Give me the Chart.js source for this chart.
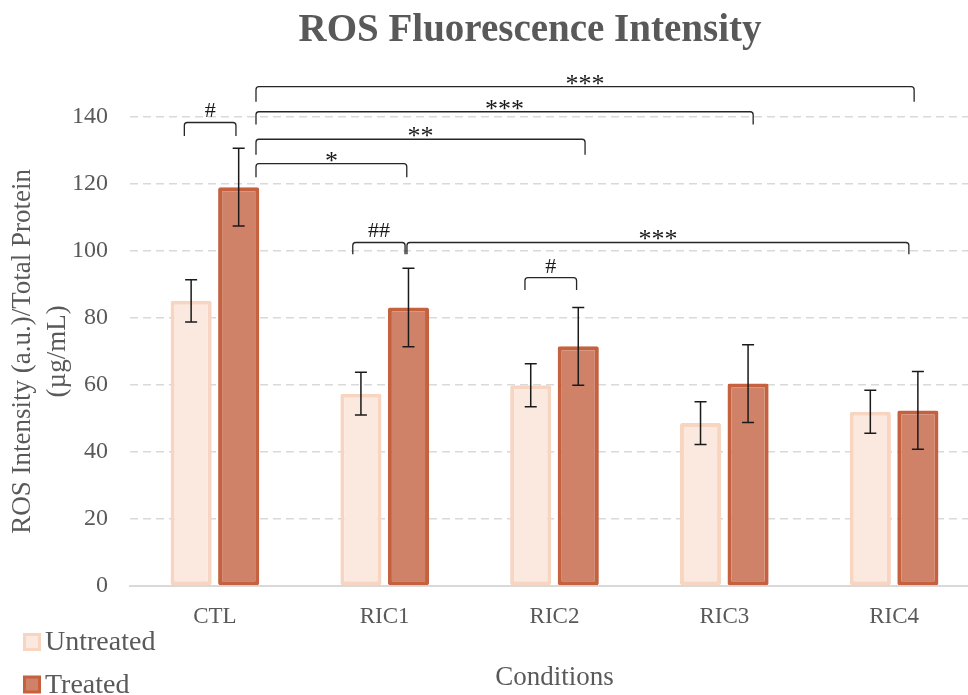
<!DOCTYPE html>
<html>
<head>
<meta charset="utf-8">
<script src="https://cdn.jsdelivr.net/npm/chart.js@4.4.1/dist/chart.umd.min.js"></script>
<style>
html, body { margin:0; padding:0; overflow:hidden; background:#fff; }
</style>
</head>
<body>
<canvas id="chart" width="1060" height="695"></canvas>
<script>
const conditions = ['CTL', 'RIC1', 'RIC2', 'RIC3', 'RIC4'];
const untreated = [85.1, 57.4, 59.9, 48.6, 52.0];
const untreatedErr = [6.3, 6.4, 6.4, 6.4, 6.4];
const treated = [119.0, 83.1, 71.5, 60.4, 52.4];
const treatedErr = [11.6, 11.7, 11.6, 11.6, 11.6];

// significance brackets: x in category units, y in data units
const brackets = [
	{label: '#',   x1: -0.18, x2: 0.124, top: 138.3, leg: 134.3},
	{label: '*',   x1: 0.242, x2: 1.13,  top: 126.0, leg: 122.0},
	{label: '**',  x1: 0.242, x2: 2.18,  top: 133.3, leg: 128.7},
	{label: '***', x1: 0.242, x2: 3.17,  top: 141.5, leg: 137.7},
	{label: '***', x1: 0.242, x2: 4.118, top: 149.0, leg: 144.5},
	{label: '##',  x1: 0.812, x2: 1.12,  top: 102.5, leg: 99.0},
	{label: '***', x1: 1.131, x2: 4.087, top: 102.5, leg: 99.0},
	{label: '#',   x1: 1.826, x2: 2.13,  top: 92.0,  leg: 88.3}
];

const FONT = "'Liberation Serif', 'Times New Roman', serif";
const GREY = '#595959';

const errors = [untreatedErr, treatedErr];

const errorBars = {
	id: 'errorBars',
	afterDatasetsDraw(chart) {
		const ctx = chart.ctx, y = chart.scales.y;
		ctx.save();
		ctx.strokeStyle = '#1a1a1a';
		ctx.lineWidth = 1.5;
		chart.data.datasets.forEach((ds, i) => {
			chart.getDatasetMeta(i).data.forEach((bar, j) => {
				const v = ds.data[j], e = errors[i][j];
				const yt = y.getPixelForValue(v + e), yb = y.getPixelForValue(v - e);
				ctx.beginPath();
				ctx.moveTo(bar.x, yt); ctx.lineTo(bar.x, yb);
				ctx.moveTo(bar.x - 6, yt); ctx.lineTo(bar.x + 6, yt);
				ctx.moveTo(bar.x - 6, yb); ctx.lineTo(bar.x + 6, yb);
				ctx.stroke();
			});
		});
		ctx.restore();
	}
};

const sigBrackets = {
	id: 'sigBrackets',
	afterDraw(chart) {
		const ctx = chart.ctx, x = chart.scales.x, y = chart.scales.y;
		ctx.save();
		ctx.strokeStyle = '#262626';
		ctx.fillStyle = '#1a1a1a';
		ctx.lineWidth = 1.3;
		ctx.textAlign = 'center';
		ctx.textBaseline = 'alphabetic';
		brackets.forEach(b => {
			const xa = x.getPixelForValue(b.x1), xb = x.getPixelForValue(b.x2);
			const yt = y.getPixelForValue(b.top), yl = y.getPixelForValue(b.leg);
			ctx.beginPath();
			ctx.moveTo(xa, yl);
			ctx.arcTo(xa, yt, xa + 4, yt, 3);
			ctx.arcTo(xb, yt, xb, yt + 4, 3);
			ctx.lineTo(xb, yl);
			ctx.stroke();
			// asterisks sit high in the glyph box, hashes sit on the baseline
			const star = b.label.includes('*');
			ctx.font = (star ? '26px ' : '22px ') + FONT;
			ctx.fillText(b.label, (xa + xb) / 2, star ? yt + 5 : yt - 5);
		});
		ctx.restore();
	}
};

const sideLegend = {
	id: 'sideLegend',
	afterDraw(chart) {
		const ctx = chart.ctx;
		ctx.save();
		ctx.font = '28px ' + FONT;
		ctx.textBaseline = 'middle';
		const rows = [642, 684.5];
		chart.data.datasets.forEach((ds, i) => {
			const cy = rows[i];
			ctx.fillStyle = ds.borderColor;
			ctx.fillRect(23, cy - 9, 18, 18);
			ctx.fillStyle = ds.backgroundColor;
			ctx.fillRect(26, cy - 6, 12, 12);
			ctx.fillStyle = GREY;
			ctx.fillText(ds.label, 45, cy + 1);
		});
		ctx.restore();
	}
};

new Chart(document.getElementById('chart'), {
	type: 'bar',
	data: {
		labels: conditions,
		datasets: [
			{label: 'Untreated', data: untreated, backgroundColor: '#FBE9E0', borderColor: '#F8D5C0',
				borderWidth: 4, borderSkipped: false, borderRadius: 2},
			{label: 'Treated', data: treated, backgroundColor: '#CF8268', borderColor: '#C5613F',
				borderWidth: 4, borderSkipped: false, borderRadius: 2}
		]
	},
	options: {
		responsive: false,
		devicePixelRatio: 1,
		animation: false,
		categoryPercentage: 0.56,
		barPercentage: 0.865,
		layout: {padding: 0},
		plugins: {
			legend: {display: false},
			tooltip: {enabled: false},
			title: {display: true, text: 'ROS Fluorescence Intensity', color: GREY,
				font: {family: FONT, size: 39, weight: 'bold', lineHeight: 1.2},
				padding: {top: 8, bottom: 62}}
		},
		scales: {
			x: {
				grid: {display: false, drawTicks: false},
				border: {display: true, color: '#D9D9D9', width: 2},
				ticks: {color: GREY, font: {family: FONT, size: 23}, padding: 17},
				title: {display: true, text: 'Conditions', color: GREY,
					font: {family: FONT, size: 27, lineHeight: 1.2}, padding: {top: 14, bottom: 1}}
			},
			y: {
				min: 0, max: 140,
				afterFit: s => { s.width = 130; },
				grid: {drawTicks: false, lineWidth: 1.5,
					color: c => c.tick && c.tick.value === 0 ? 'rgba(0,0,0,0)' : '#D9D9D9'},
				border: {display: false, dash: [8, 5]},
				ticks: {stepSize: 20, color: GREY, font: {family: FONT, size: 24}, padding: 22},
				title: {display: true, text: ['ROS Intensity (a.u.)/Total Protein', '(µg/mL)'], color: GREY,
					font: {family: FONT, size: 27, lineHeight: 1.3}, padding: {top: 5, bottom: 0}}
			},
			yR: {
				position: 'right',
				afterFit: s => { s.width = 81; },
				grid: {display: false},
				border: {display: false},
				ticks: {display: false}
			}
		}
	},
	plugins: [errorBars, sigBrackets, sideLegend]
});
</script>
</body>
</html>
